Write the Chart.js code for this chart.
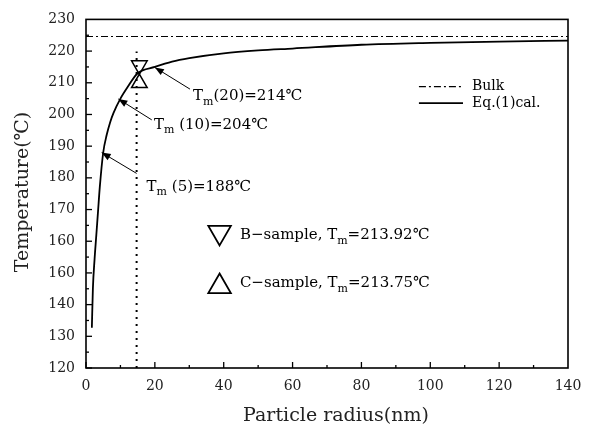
<!DOCTYPE html>
<html>
<head>
	<meta charset="utf-8">
	<title>Tm vs particle radius</title>
	<style>
		html, body {
			margin: 0px;
			padding: 0px;
			background: #fff;
		}
		canvas {
			display: block;
		}
	</style>
</head>
<body>
	<canvas id="chart" width="597" height="430"></canvas>
	<script src="https://cdn.jsdelivr.net/npm/chart.js@4/dist/chart.umd.min.js"></script>
	<script>
		// values
		const radius = [1.7, 2, 2.5, 3, 3.5, 4, 5, 6, 7, 8, 10, 12, 15, 20, 25, 30, 40, 50, 60, 80, 100, 120, 140];
		const tempCalc = [132.7, 145, 154.5, 162, 169.5, 177, 188, 193.5, 197.5, 200.5, 205, 208.5, 213, 215, 216.7, 217.8, 219.3, 220.2, 220.8, 222, 222.6, 223, 223.3];
		const bulkRadius = [0, 140];
		const bulkTemp = [224.6, 224.6];
		const markRadius = [14.7, 14.7];
		const markTemp = [120, 219.9];
		const sampleB = [15.5, 215.5];
		const sampleC = [15.5, 209.9];
		const xTicks = [0, 20, 40, 60, 80, 100, 120, 140];
		const yTickLabels = ['120', '130', '140', '160', '160', '170', '180', '190', '200', '210', '220', '230'];

		const SERIF = "'DejaVu Serif', serif";

		const toPts = (xs, ys) => xs.map((v, i) => ({x: v, y: ys[i]}));

		// text with "m" subscript pieces
		const drawParts = (ctx, x, y, parts, size) => {
			ctx.textBaseline = 'middle';
			ctx.textAlign = 'left';
			parts.forEach(p => {
				const sub = p[1];
				const s = sub ? Math.round(size * 0.72) : size;
				ctx.font = `${s}px ${SERIF}`;
				ctx.fillText(p[0], x, sub ? y + size * 0.38 : y);
				x += ctx.measureText(p[0]).width;
			});
		};

		const arrow = (ctx, x1, y1, x2, y2) => {
			ctx.beginPath();
			ctx.moveTo(x1, y1);
			ctx.lineTo(x2, y2);
			ctx.stroke();
			const a = Math.atan2(y2 - y1, x2 - x1);
			const L = 9, W = 3.5;
			ctx.beginPath();
			ctx.moveTo(x2, y2);
			ctx.lineTo(x2 - L * Math.cos(a) + W * Math.sin(a), y2 - L * Math.sin(a) - W * Math.cos(a));
			ctx.lineTo(x2 - L * Math.cos(a) - W * Math.sin(a), y2 - L * Math.sin(a) + W * Math.cos(a));
			ctx.closePath();
			ctx.fill();
		};

		const tri = (ctx, x, y, r, down) => {
			const d = down ? -1 : 1;
			ctx.beginPath();
			ctx.moveTo(x, y - d * r);
			ctx.lineTo(x + r * Math.sqrt(3) / 2, y + d * r / 2);
			ctx.lineTo(x - r * Math.sqrt(3) / 2, y + d * r / 2);
			ctx.closePath();
			ctx.stroke();
		};

		const deco = {
			id: 'deco',
			afterDraw(chart) {
				const {ctx, chartArea: a, scales: {x, y}} = chart;
				const X = v => x.getPixelForValue(v);
				const Y = v => y.getPixelForValue(v);
				ctx.save();
				ctx.strokeStyle = '#000';
				ctx.fillStyle = '#000';

				// frame
				ctx.lineWidth = 1.6;
				ctx.strokeRect(a.left, a.top, a.right - a.left, a.bottom - a.top);

				// inward ticks
				ctx.lineWidth = 1.3;
				for (let v = 0; v < 140; v += 10) {
					const len = v % 20 ? 3 : 6;
					ctx.beginPath();
					ctx.moveTo(X(v), a.bottom);
					ctx.lineTo(X(v), a.bottom - len);
					ctx.stroke();
				}
				for (let v = 120; v < 230; v += 5) {
					const len = v % 10 ? 3 : 6;
					ctx.beginPath();
					ctx.moveTo(a.left, Y(v));
					ctx.lineTo(a.left + len, Y(v));
					ctx.stroke();
				}

				// axis titles
				ctx.fillStyle = '#222';
				ctx.font = `19px ${SERIF}`;
				ctx.textAlign = 'center';
				ctx.textBaseline = 'middle';
				ctx.fillText('Particle radius(nm)', 336, 416);
				ctx.save();
				ctx.translate(23, 192);
				ctx.rotate(-Math.PI / 2);
				ctx.fillText('Temperature(℃)', 0, 0);
				ctx.restore();
				ctx.fillStyle = '#000';

				// arrows + labels
				ctx.lineWidth = 1;
				arrow(ctx, X(30.2), Y(208.0), X(20.0), Y(214.85));
				arrow(ctx, X(19.1), Y(198.3), X(9.4), Y(204.9));
				arrow(ctx, X(14.7), Y(181.4), X(4.56), Y(188.0));
				drawParts(ctx, X(31.1), Y(205.7), [['T'], ['m', true], ['(20)=214℃']], 15);
				drawParts(ctx, X(19.75), Y(196.8), [['T'], ['m', true], [' (10)=204℃']], 15);
				drawParts(ctx, X(17.6), Y(177.2), [['T'], ['m', true], [' (5)=188℃']], 15);

				// legend
				ctx.lineWidth = 1.2;
				ctx.setLineDash([7, 3, 2, 3]);
				ctx.beginPath();
				ctx.moveTo(X(96.7), Y(208.8));
				ctx.lineTo(X(109.5), Y(208.8));
				ctx.stroke();
				ctx.setLineDash([]);
				ctx.lineWidth = 1.8;
				ctx.beginPath();
				ctx.moveTo(X(96.7), Y(203.6));
				ctx.lineTo(X(109.5), Y(203.6));
				ctx.stroke();
				drawParts(ctx, X(112.1), Y(208.8), [['Bulk']], 14);
				drawParts(ctx, X(112.1), Y(203.6), [['Eq.(1)cal.']], 14);

				// sample keys
				ctx.lineWidth = 1.8;
				tri(ctx, X(38.8), Y(162.8), 13, true);
				tri(ctx, X(38.8), Y(145.7), 13, false);
				drawParts(ctx, X(44.7), Y(161.8), [['B−sample, T'], ['m', true], ['=213.92℃']], 15);
				drawParts(ctx, X(44.7), Y(146.7), [['C−sample, T'], ['m', true], ['=213.75℃']], 15);
				ctx.restore();
			}
		};

		new Chart(document.getElementById('chart'), {
			type: 'scatter',
			data: {
				datasets: [
					{
						label: 'Bulk',
						data: toPts(bulkRadius, bulkTemp),
						showLine: true,
						borderColor: '#000',
						borderWidth: 1.2,
						borderDash: [7, 3, 2, 3],
						pointRadius: 0
					},
					{
						label: 'Eq.(1) cal.',
						data: toPts(radius, tempCalc),
						showLine: true,
						borderColor: '#000',
						borderWidth: 1.8,
						cubicInterpolationMode: 'monotone',
						pointRadius: 0
					},
					{
						label: 'r',
						data: toPts(markRadius, markTemp),
						showLine: true,
						borderColor: '#000',
						borderWidth: 2,
						borderDash: [2, 5],
						pointRadius: 0
					},
					{
						label: 'B-sample',
						data: [{x: sampleB[0], y: sampleB[1]}],
						pointStyle: 'triangle',
						rotation: 180,
						pointRadius: 9,
						pointBorderWidth: 1.5,
						borderColor: '#000',
						backgroundColor: 'rgba(0,0,0,0)'
					},
					{
						label: 'C-sample',
						data: [{x: sampleC[0], y: sampleC[1]}],
						pointStyle: 'triangle',
						pointRadius: 9,
						pointBorderWidth: 1.5,
						borderColor: '#000',
						backgroundColor: 'rgba(0,0,0,0)'
					}
				]
			},
			options: {
				responsive: false,
				animation: false,
				events: [],
				layout: {
					padding: {left: 0, top: 10, right: 29, bottom: 0}
				},
				plugins: {
					legend: {display: false},
					tooltip: {enabled: false}
				},
				scales: {
					x: {
						type: 'linear',
						min: 0,
						max: 140,
						afterBuildTicks: s => { s.ticks = xTicks.map(v => ({value: v})); },
						afterFit: s => { s.height = 62; },
						grid: {display: false, drawTicks: false},
						border: {display: false},
						ticks: {
							padding: 10,
							color: '#222',
							font: {family: SERIF, size: 14}
						}
					},
					y: {
						type: 'linear',
						min: 120,
						max: 230,
						afterFit: s => { s.width = 86; },
						grid: {display: false, drawTicks: false},
						border: {display: false},
						ticks: {
							stepSize: 10,
							padding: 11,
							color: '#222',
							font: {family: SERIF, size: 14},
							callback: (v, i) => yTickLabels[i]
						}
					}
				}
			},
			plugins: [deco]
		});
	</script>
</body>
</html>
